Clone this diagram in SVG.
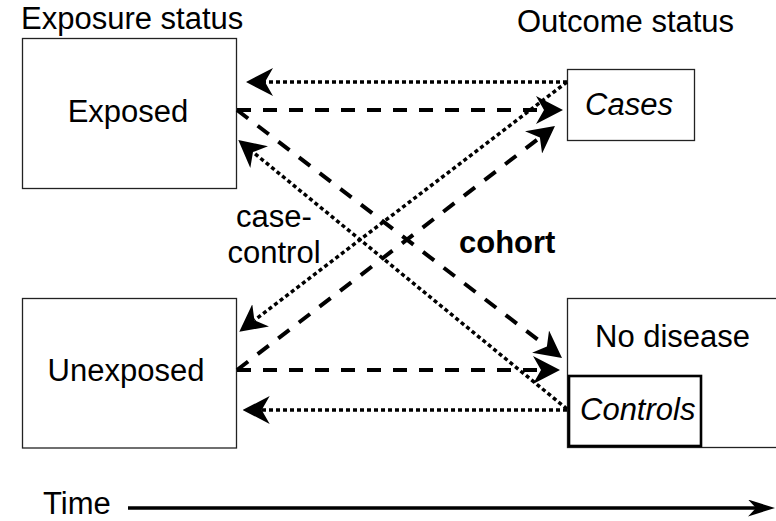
<svg xmlns="http://www.w3.org/2000/svg" width="776" height="521" viewBox="0 0 776 521">
<style>
  text { font-family: "Liberation Sans", Arial, sans-serif; font-size: 31px; fill: #000; }
  .box { fill: #fff; stroke: #222; stroke-width: 1.3; }
  .thick { fill: none; stroke: #000; stroke-width: 2.6; }
  .dot { fill: none; stroke: #000; stroke-width: 3.5; stroke-dasharray: 4 3; marker-end: url(#ah); }
  .dash { fill: none; stroke: #000; stroke-width: 4; stroke-dasharray: 14 12; marker-end: url(#ah); }
  .it { font-style: italic; }
</style>
<defs>
  <marker id="ah" viewBox="0 0 27 28" refX="8" refY="14" markerWidth="27" markerHeight="28" markerUnits="userSpaceOnUse" orient="auto">
    <path d="M27,14 L0,0 L8,14 L0,28 Z" fill="#000"/>
  </marker>
  <marker id="th" viewBox="0 0 27 17" refX="8" refY="8.5" markerWidth="27" markerHeight="17" markerUnits="userSpaceOnUse" orient="auto">
    <path d="M27,8.5 L0,0 L8,8.5 L0,17 Z" fill="#000"/>
  </marker>
</defs>
<text x="21" y="29">Exposure status</text>
<text x="517" y="31.5">Outcome status</text>
<g id="exposed">
  <rect class="box" x="22.5" y="38.5" width="214" height="150"/>
  <text x="128" y="122" text-anchor="middle">Exposed</text>
</g>
<g id="unexposed">
  <rect class="box" x="22.5" y="298.5" width="214" height="149.5"/>
  <text x="126" y="381" text-anchor="middle">Unexposed</text>
</g>
<g id="cases">
  <rect class="box" x="567.5" y="69.5" width="127" height="71"/>
  <text class="it" x="629" y="115" text-anchor="middle">Cases</text>
</g>
<g id="nodisease">
  <rect class="box" x="567.5" y="298.5" width="220" height="149"/>
  <text x="595" y="347">No disease</text>
</g>
<g id="controls">
  <rect class="thick" x="569" y="376" width="132" height="70"/>
  <text class="it" x="580" y="420">Controls</text>
</g>
<g id="connectors">
  <path class="dot" d="M567,82 L265,82"/>
  <path class="dot" d="M567,82 L254.4,320.2"/>
  <path class="dot" d="M567,409 L253,152.1"/>
  <path class="dot" d="M567,410 L261.7,410"/>
  <path class="dash" d="M237,110 L544,110"/>
  <path class="dash" d="M237,110 L546.9,346.5"/>
  <path class="dash" d="M237,370 L541,370"/>
  <path class="dash" d="M237,370 L539.9,137.6"/>
</g>
<text x="274" y="227" text-anchor="middle">case-</text>
<text x="274" y="263" text-anchor="middle">control</text>
<text x="459" y="253" font-weight="bold">cohort</text>
<g id="time">
  <text x="43" y="514">Time</text>
  <path d="M128,508 L756,508" fill="none" stroke="#000" stroke-width="3.5" marker-end="url(#th)"/>
</g>
</svg>
